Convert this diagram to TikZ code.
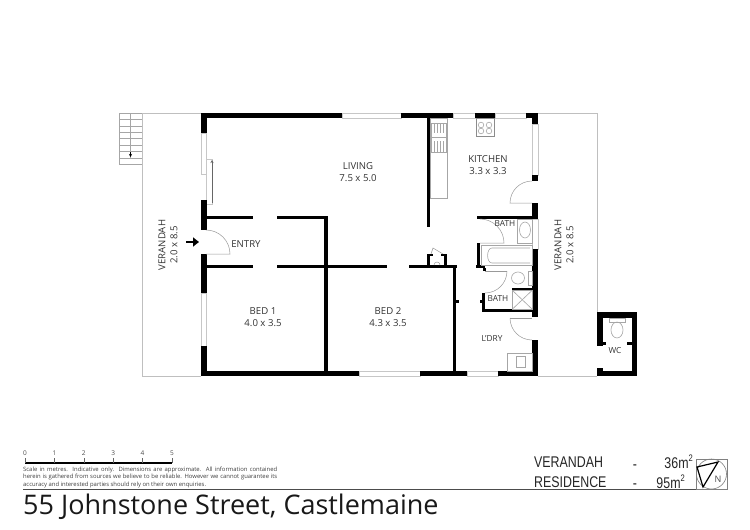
\documentclass[tikz,border=0pt]{standalone}
\usepackage{fontspec}
\setmainfont{Open Sans}
\newfontfamily\arealabelfont{Liberation Sans}
\usetikzlibrary{arrows.meta}
\tikzstyle{wall} = [fill=black]
\tikzstyle{glass} = [draw=black!22, fill=white, line width=0.6pt]
\tikzstyle{edgeline} = [draw=black!25, line width=0.9pt]
\tikzstyle{fixture} = [draw=black!35, line width=0.6pt]
\tikzstyle{swing} = [draw=black!40, line width=0.5pt]
\tikzstyle{room} = [font=\fontsize{9.6}{12}\selectfont, text=black!80, align=center, inner sep=0pt]
\tikzstyle{smallroom} = [room, font=\fontsize{8.3}{10}\selectfont]
\tikzstyle{arealabel} = [font=\arealabelfont\fontsize{15.5}{16}\selectfont, text=black!85, inner sep=0pt, xscale=0.8, transform shape]
\newcommand{\sqmark}{{\raisebox{0.45em}{\fontsize{9.5}{10}\selectfont 2}}}

\begin{document}
\begin{tikzpicture}[x=1pt, y=-1pt]
				\useasboundingbox (0,0) rectangle (750,530);
				\fill[white] (0,0) rectangle (750,530);
				\draw[edgeline] (119,113) -- (201,113);
				\draw[edgeline] (142,113) -- (142,376) -- (201,376);
				\draw[edgeline] (538,113) -- (597,113) -- (597,312);
				\draw[edgeline] (538,376) -- (597,376);
				\foreach \ya in {113,119.4,...,165}
					\draw[fixture] (119,\ya) -- (142,\ya);
				\draw[fixture] (119,113) -- (119,164);
				\draw[fixture] (130.5,113) -- (130.5,158);
				\draw[-{Stealth[length=3pt,width=3pt]}, line width=0.5pt] (130.5,152) -- (130.5,157);
				\foreach \xa/\ya/\xb/\yb in {
					342/113/401/118, 453/113/475/118, 495/113/526/118,
					201/133/206/174, 206.5/159/212/204, 201/293/206/346,
					359/371/420/376, 467/371/498/376,
					532/124/538/175, 532/219/538/249}
					\path[glass] (\xa,\ya) rectangle (\xb,\yb);
				\foreach \xa/\ya/\xb/\yb in {
					201/113/342/118, 401/113/453/118, 475/113/495/118, 526/113/538/118,
					201/113/206.5/133, 201/200/206.5/230, 201/254/206.5/293, 201/346/206.5/376,
					201/371/359/376, 420/371/467/376, 498/371/538/376,
					206/215.7/253/219, 277/215.7/327.5/219, 324.2/215.7/327.5/371,
					206/265/253/268.3, 277/265/387/268.3, 409/265/457/268.3,
					427/118/430/227, 453/268/456.3/371, 456/300/458.5/303,
					427/253.5/430/265, 444/253.5/447/265, 427/253.5/433/256, 441/253.5/447/256,
					532/113/538/124, 532/175/538/181, 532/203/538/219, 532/249/538/317, 532/340/538/376,
					477/215.7/538/219, 477/243/480.3/266, 476/265/485/268.3, 483/268/485.5/271,
					482/293/485.3/312, 479.5/300/482/303, 482/309/533/312, 512/287.5/533/290.5,
					597/312/603/346, 597/312/637/318, 632/312/637/376, 597/371/637/376, 597/368/603/376,
					603/342/606/344.5, 627/342/632/344.5}
					\fill[wall] (\xa,\ya) rectangle (\xb,\yb);
				\draw[swing] (206,230) arc[start angle=90, end angle=0, radius=24pt] -- (206,254);
				\draw[swing] (532,181) arc[start angle=90, end angle=180, radius=22pt] -- (532,203);
				\draw[swing] (480,219) arc[start angle=90, end angle=0, radius=24pt] -- (480,243);
				\draw[swing] (507,271) arc[start angle=0, end angle=-90, radius=22pt];
				\draw[swing] (485,271) -- (507,271);
				\draw[swing] (510,318) -- (532,318);
				\draw[swing] (510,318) arc[start angle=180, end angle=270, radius=22pt];
				\draw[swing] (431,254) -- (433,248) -- (443,254);
				\draw[swing] (434,265) arc[start angle=180, end angle=0, radius=3pt];
				\draw[-{Stealth[length=3pt,width=3pt]}, fixture, draw=black!60] (212,203) -- (212,160);
				\draw[-{Triangle[length=6pt,width=9pt]}, line width=2.6pt] (186,242) -- (199,242);
				\draw[fixture] (430,118) rectangle (447,198);
				\draw[fixture] (431,123) rectangle (446,152);
				\draw[fixture] (431,137) -- (446,137);
				\foreach \xa in {434,437,440,443} {
					\draw[fixture, line width=0.4pt] (\xa,123) -- (\xa,133);
					\draw[fixture, line width=0.4pt] (\xa,141) -- (\xa,152);
				}
				\draw[fixture, draw=black!45, line width=1pt] (476,118) rectangle (494,136);
				\foreach \xa/\ya in {481/125, 489/125, 481/131, 489/131}
					\draw[fixture] (\xa,\ya) circle (2.8pt);
				\draw[fixture] (517,219) rectangle (532,243);
				\draw[fixture] (525,230) ellipse (5.5pt and 8pt);
				\draw[fixture] (481,245) rectangle (532,265);
				\draw[fixture] (530,263) -- (492,263) to[out=180, in=180] (492,248) -- (530,248);
				\draw[fixture] (528,271) rectangle (532,285);
				\draw[fixture] (518,278) ellipse (6.5pt and 6pt);
				\draw[fixture] (512.5,290.5) rectangle (532,309);
				\draw[fixture] (512.5,290.5) -- (532,309);
				\draw[fixture] (532,290.5) -- (512.5,309);
				\draw[fixture] (507,353) rectangle (532,371);
				\draw[fixture] (516,356) rectangle (525,367);
				\draw[fixture] (609,318) rectangle (625,322);
				\draw[fixture] (617,330) ellipse (6pt and 8pt);
				\node[room] (living) at (358,172) {LIVING\\7.5 x 5.0};
				\node[room] (kitchen) at (488,165) {KITCHEN\\3.3 x 3.3};
				\node[room] (bedone) at (263,317.5) {BED 1\\4.0 x 3.5};
				\node[room] (bedtwo) at (388,317.5) {BED 2\\4.3 x 3.5};
				\node[room] (entry) at (246,244) {ENTRY};
				\node[smallroom] (bathtop) at (505,224) {BATH};
				\node[smallroom] (bathlow) at (498,299) {BATH};
				\node[smallroom] (ldry) at (492,339) {L'DRY};
				\node[smallroom] (wc) at (615,351) {WC};
				\node[room, rotate=90] (verleft) at (168,245) {VERANDAH\\2.0 x 8.5};
				\node[room, rotate=90] (verright) at (564,245) {VERANDAH\\2.0 x 8.5};
				\draw[line width=1.4pt] (25,463) -- (172,463);
				\foreach \i in {0,...,5} {
					\draw[draw=black!60, line width=0.5pt] (25+29.4*\i,458) -- (25+29.4*\i,463);
					\node[font=\fontsize{6.5}{7}\selectfont, text=black!70, inner sep=0pt] (n\i) at (25+29.4*\i,453) {\i};
				}
				\node[anchor=north west, inner sep=0pt, align=left, font=\fontsize{5.9}{7.6}\selectfont, text=black!75] (legal) at (23,466.5) {\makebox[254pt][s]{Scale in metres. Indicative only. Dimensions are approximate. All information contained}\\\makebox[254pt][s]{herein is gathered from sources we believe to be reliable. However we cannot guarantee its}\\accuracy and interested parties should rely on their own enquiries.};
				\draw[draw=black!70, line width=0.8pt] (23,489.5) -- (727,489.5);
				\node[anchor=west, inner sep=0pt, font=\fontsize{27}{30}\selectfont, text=black!90] (title) at (23,507) {55 Johnstone Street, Castlemaine};
				\node[arealabel, anchor=west] (verandah) at (534,462) {VERANDAH};
				\node[arealabel, anchor=west] (residence) at (534,482) {RESIDENCE};
				\node[arealabel] (dashone) at (635,467) {-};
				\node[arealabel] (dashtwo) at (635,486) {-};
				\node[arealabel, anchor=east] (areaone) at (693,462) {36m\sqmark};
				\node[arealabel, anchor=east] (areatwo) at (685,482) {95m\sqmark};
				\draw[draw=black!50, line width=0.6pt] (696,459) rectangle (727,489);
				\draw[draw=black!50, line width=0.6pt] (711.5,474) circle (15pt);
				\draw[line width=1.2pt, line join=miter] (697,467) -- (718,462) -- (703,487) -- cycle;
				\node[font=\rmfamily\fontsize{9}{10}\selectfont, text=black!70, inner sep=0pt] (north) at (718,479) {N};
		\end{tikzpicture}
\end{document}
